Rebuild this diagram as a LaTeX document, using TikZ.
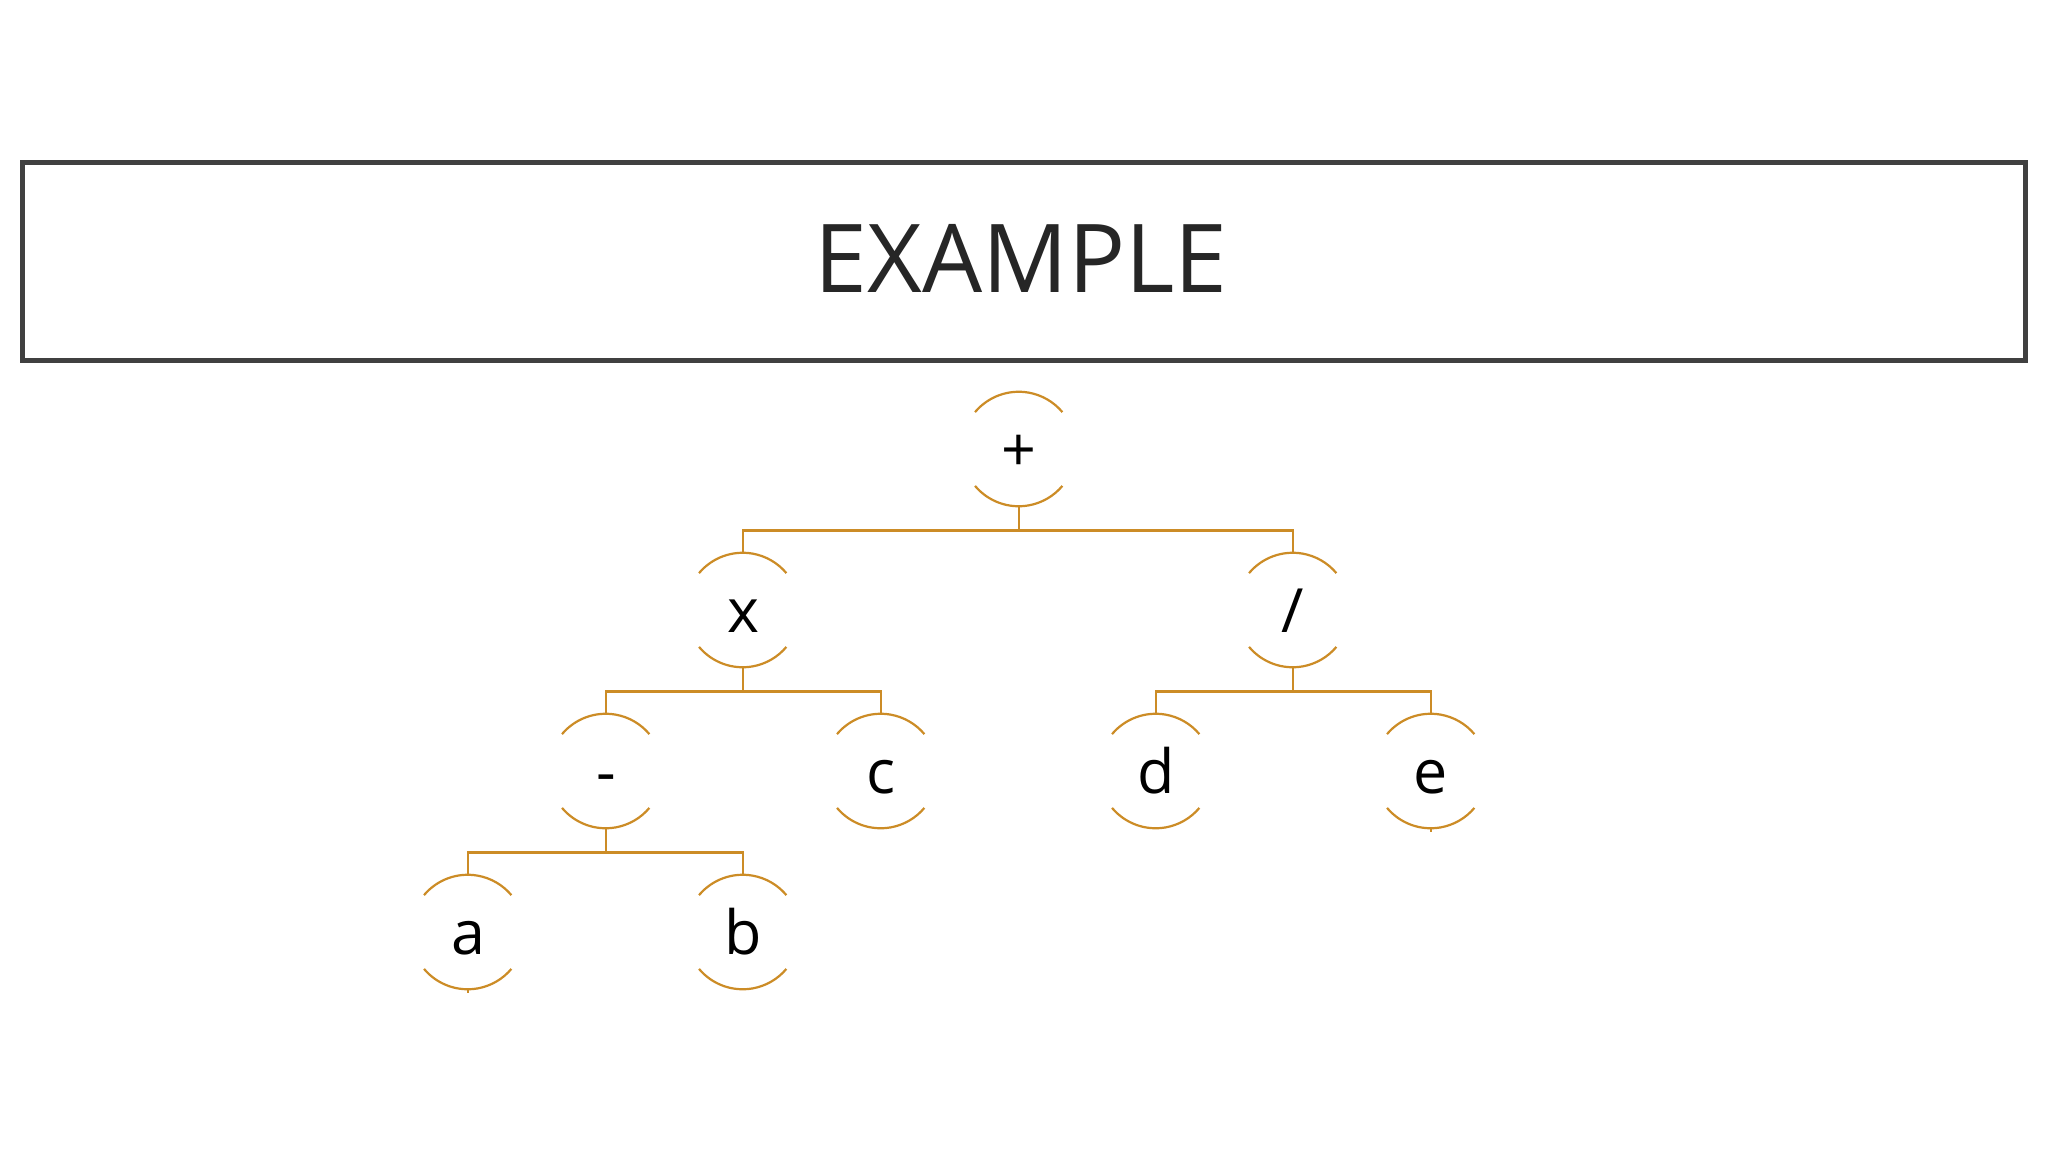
\documentclass[tikz,border=0pt]{standalone}
\usepackage{fontspec}
\setmainfont{Open Sans}
\definecolor{gold}{RGB}{204,140,38}
\definecolor{frame}{RGB}{64,64,64}
\definecolor{titlecol}{RGB}{38,38,38}
\begin{document}
\begin{tikzpicture}[x=0.5pt,y=-0.5pt,
  tnode/.style={circle, inner sep=0pt, minimum size=57pt, text height=22pt, text depth=0pt, font=\fontsize{30.5pt}{36pt}\selectfont, text=black},
  link/.style={draw=gold, line width=1.1pt},
  arcline/.style={draw=gold, line width=1.1pt}]
\path[fill=white, use as bounding box] (0,0) rectangle (2048,1152);
\node[draw=frame, line width=2.5pt, minimum width=1001.5pt, minimum height=99pt, inner sep=0pt] (banner) at (1023.5,261) {};
\node[anchor=base, text=titlecol, font=\fontsize{47.5pt}{56pt}\selectfont] (title) at (1021,292) {EXAMPLE};
\node[tnode] (plus) at (1019,449) {+};
\node[tnode] (x) at (743,610) {x};
\node[tnode] (slash) at (1293,610) {/};
\node[tnode] (minus) at (606,771) {-};
\node[tnode] (c) at (881,771) {c};
\node[tnode] (d) at (1156,771) {d};
\node[tnode] (e) at (1431,771) {e};
\node[tnode] (a) at (468,932) {a};
\node[tnode] (b) at (743,932) {b};
\foreach \n in {plus,x,slash,minus,c,d,e,a,b}{
  \draw[arcline] (\n.140) arc[start angle=-140, end angle=-40, radius=57];
  \draw[arcline] (\n.220) arc[start angle=-220, end angle=-320, radius=57];
}
\draw[link] (plus.south) -- ++(0,24) coordinate (bus1);
\draw[link] (x.north) |- (bus1) -| (slash.north);
\draw[link] (x.south) -- ++(0,24) coordinate (bus2);
\draw[link] (minus.north) |- (bus2) -| (c.north);
\draw[link] (slash.south) -- ++(0,24) coordinate (bus3);
\draw[link] (d.north) |- (bus3) -| (e.north);
\draw[link] (minus.south) -- ++(0,24) coordinate (bus4);
\draw[link] (a.north) |- (bus4) -| (b.north);
\draw[link] (a.south) -- ++(0,4) coordinate (stuba);
\draw[link] (e.south) -- ++(0,4) coordinate (stube);
\end{tikzpicture}
\end{document}
